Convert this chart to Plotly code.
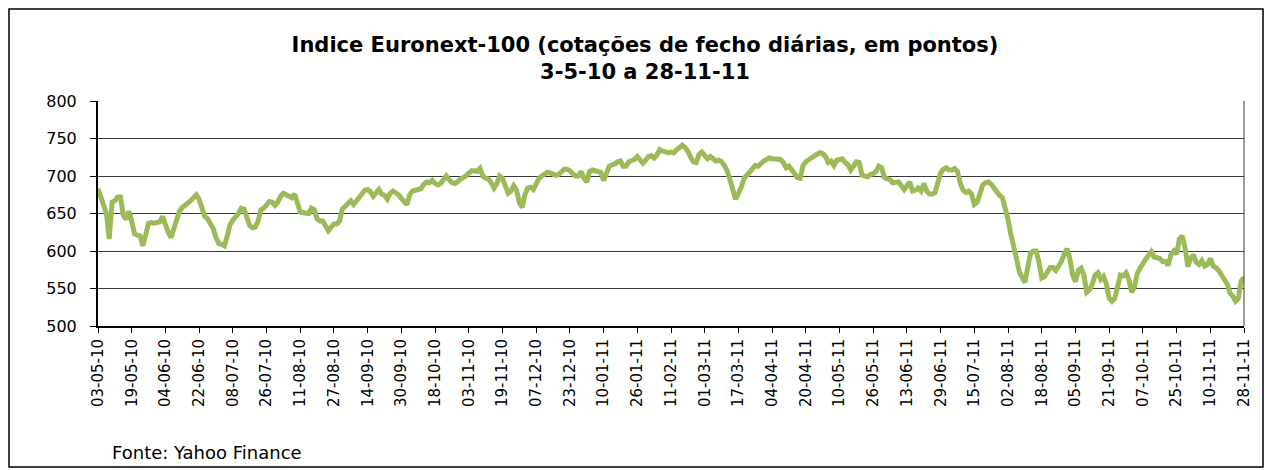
import plotly.graph_objects as go
import pandas as pd

# Euronext-100 daily closes, 3-5-10 to 28-11-11 (one value per trading day)
closes = [
    683, 670, 660, 650, 616, 665, 667, 672, 672, 648, 642, 653, 640, 623, 621, 620,
    607, 620, 637, 638, 637, 638, 639, 646, 634, 625, 618, 630, 645, 653, 658, 662,
    664, 667, 670, 675, 669, 656, 646, 643, 637, 630, 618, 610, 609, 607, 620, 635,
    641, 645, 650, 657, 656, 645, 634, 631, 632, 640, 655, 657, 662, 666, 665, 661,
    665, 673, 677, 675, 674, 671, 676, 662, 652, 651, 651, 650, 657, 655, 643, 640,
    640, 633, 627, 632, 636, 636, 640, 656, 659, 663, 667, 662, 667, 672, 678, 681,
    682, 679, 673, 679, 682, 676, 674, 669, 677, 680, 678, 675, 670, 665, 662, 675,
    680, 681, 682, 683, 689, 692, 691, 694, 690, 688, 690, 696, 700, 695, 691, 690,
    692, 696, 698, 700, 704, 707, 707, 706, 710, 700, 697, 696, 691, 684, 690, 700,
    697, 686, 677, 680, 687, 681, 665, 658, 675, 684, 685, 682, 691, 697, 700, 702,
    705, 704, 702, 701, 702, 705, 709, 709, 707, 703, 700, 700, 706, 697, 692, 706,
    708, 707, 706, 705, 694, 702, 713, 715, 716, 719, 720, 713, 713, 719, 720, 722,
    726, 722, 717, 721, 726, 727, 724, 728, 735, 733, 732, 731, 732, 731, 735, 739,
    741, 738, 733, 725, 719, 718, 729, 732, 727, 723, 726, 722, 720, 721, 719, 714,
    707, 695, 681, 669, 677, 685, 697, 700, 705, 710, 714, 713, 717, 720, 722, 724,
    723, 723, 723, 722, 718, 711, 713, 708, 705, 698, 697, 714, 719, 722, 725, 727,
    729, 731, 730, 726, 718, 720, 714, 721, 722, 723, 718, 715, 708, 714, 719, 718,
    701, 700, 699, 702, 703, 706, 713, 711, 698, 696, 695, 691, 692, 692, 687, 682,
    687, 692, 680, 681, 684, 680, 690, 680, 676, 676, 678, 690, 704, 709, 711, 708,
    708, 710, 706, 690, 681, 678, 680, 676, 662, 665, 677, 688, 691, 692, 689, 683,
    678, 674, 671, 658, 642, 622, 609, 590, 572, 566, 558, 578, 597, 600, 600, 585,
    564, 566, 571, 578, 578, 574, 580, 586, 596, 603, 590, 568, 559, 574, 577, 568,
    545, 548, 556, 568, 571, 562, 566, 556, 537, 533, 537, 553, 568, 567, 571, 562,
    545, 552, 570, 577, 584, 589, 594, 599, 592, 591, 590, 586, 586, 581, 595, 600,
    596, 616, 620, 605, 579, 590, 595, 585, 582, 587, 580, 582, 590, 580, 578, 574,
    568, 563, 556, 544, 540, 533, 537, 560, 565,
]

tick_labels = [
    "03-05-10", "19-05-10", "04-06-10", "22-06-10", "08-07-10", "26-07-10", "11-08-10",
    "27-08-10", "14-09-10", "30-09-10", "18-10-10", "03-11-10", "19-11-10", "07-12-10",
    "23-12-10", "10-01-11", "26-01-11", "11-02-11", "01-03-11", "17-03-11", "04-04-11",
    "20-04-11", "10-05-11", "26-05-11", "13-06-11", "29-06-11", "15-07-11", "02-08-11",
    "18-08-11", "05-09-11", "21-09-11", "07-10-11", "25-10-11", "10-11-11", "28-11-11",
]

holidays = ["2011-04-22", "2011-04-25"]
days = pd.bdate_range("2010-05-03", "2011-11-28")
days = days[~days.isin(pd.to_datetime(holidays))]
dates = [d.strftime("%d-%m-%y") for d in days]
n = min(len(dates), len(closes))
dates = dates[:n]
closes = closes[:n]

tick_pos = [dates.index(t) for t in tick_labels if t in dates]
tick_txt = [t for t in tick_labels if t in dates]

FONT = "DejaVu Sans"

fig = go.Figure()
fig.add_trace(go.Scatter(
    x=list(range(n)), y=closes, mode="lines",
    line=dict(color="#9BBB59", width=5),
    hoverinfo="skip", showlegend=False,
))

# page is offset by the 8px body margin
OFF = 8
W, H = 1272, 470
L, T = 98 - OFF, 101 - OFF
R = W - (1244 - OFF)
B = H - (326 - OFF)
pw, ph = W - L - R, H - T - B

def px(x):
    return (x - OFF - L) / pw

def py(y):
    return (H - B - (y - OFF)) / ph

fig.update_layout(
    width=W, height=H,
    margin=dict(l=L, r=R, t=T, b=B),
    paper_bgcolor="white", plot_bgcolor="white",
    title=dict(
        text="<b>Indice Euronext-100 (cotações de fecho diárias, em pontos)<br>3-5-10 a 28-11-11</b>",
        x=(645 - OFF) / W, xanchor="center", xref="container",
        y=1 - (52 - OFF) / H, yanchor="middle", yref="container",
        font=dict(family=FONT, size=21, color="black"),
    ),
    xaxis=dict(
        range=[0, n - 1],
        tickmode="array", tickvals=tick_pos, ticktext=tick_txt,
        tickangle=-90, tickfont=dict(family=FONT, size=15, color="black"),
        showgrid=False, zeroline=False,
        showline=True, linecolor="black", linewidth=2, mirror=False,
        ticks="outside", ticklen=5, tickcolor="black",
    ),
    yaxis=dict(
        range=[500, 800], tickvals=[500, 550, 600, 650, 700, 750, 800],
        tickfont=dict(family=FONT, size=16, color="black"),
        showgrid=True, gridcolor="#3a3a3a", gridwidth=1,
        zeroline=False, showline=True, linecolor="black", linewidth=2,
        ticks="outside", ticklen=6, tickcolor="black", ticklabelstandoff=10,
    ),
    shapes=[
        dict(type="line", xref="paper", yref="paper", x0=1, x1=1, y0=0, y1=1,
             line=dict(color="#3a3a3a", width=1)),
        dict(type="rect", xref="paper", yref="paper",
             x0=px(9), x1=px(1263),
             y0=py(467), y1=py(9),
             line=dict(color="black", width=1.5), fillcolor="rgba(0,0,0,0)", layer="below"),
    ],
    annotations=[
        dict(text="Fonte: Yahoo Finance", xref="paper", yref="paper",
             x=px(110), y=py(452), xanchor="left", yanchor="middle",
             showarrow=False, font=dict(family=FONT, size=18, color="black")),
    ],
)

fig.write_html("out.html")
